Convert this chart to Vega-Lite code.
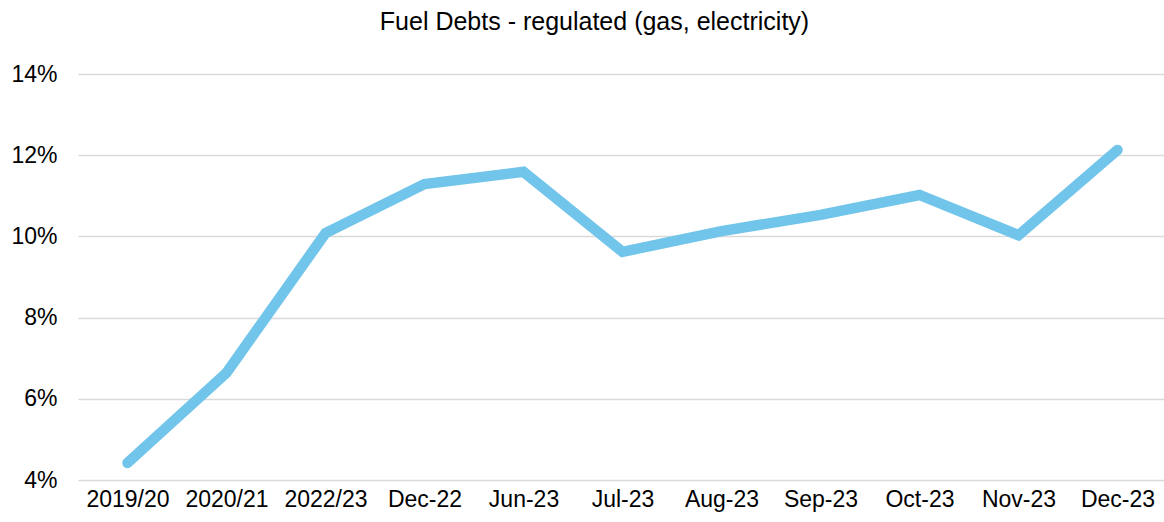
{
  "$schema": "https://vega.github.io/schema/vega-lite/v6.json",
  "autosize": {"type": "none"},
  "padding": {"left": 78, "top": 74, "right": 0, "bottom": 42},
  "width": 1089,
  "height": 406,
  "background": "white",
  "title": {
    "text": "Fuel Debts - regulated (gas, electricity)",
    "font": "Liberation Sans",
    "fontSize": 25,
    "fontWeight": "normal",
    "color": "#000000",
    "anchor": "middle",
    "frame": "group",
    "offset": 28,
    "dx": -28
  },
  "data": {
    "values": [
      {"period": "2019/20", "value": 0.0442},
      {"period": "2020/21", "value": 0.0664},
      {"period": "2022/23", "value": 0.1008},
      {"period": "Dec-22", "value": 0.1129},
      {"period": "Jun-23", "value": 0.1159},
      {"period": "Jul-23", "value": 0.0962},
      {"period": "Aug-23", "value": 0.1013},
      {"period": "Sep-23", "value": 0.1053},
      {"period": "Oct-23", "value": 0.1102},
      {"period": "Nov-23", "value": 0.1003},
      {"period": "Dec-23", "value": 0.1213}
    ]
  },
  "mark": {"type": "line", "color": "#71C4EA", "strokeWidth": 10.5, "strokeCap": "round", "strokeJoin": "miter"},
  "encoding": {
    "x": {
      "field": "period",
      "type": "ordinal",
      "sort": null,
      "scale": {"type": "point", "padding": 0.5},
      "axis": {
        "title": null,
        "labelAngle": 0,
        "domain": false,
        "ticks": false,
        "grid": false,
        "labelFont": "Liberation Sans",
        "labelFontSize": 23,
        "labelColor": "#000000",
        "labelPadding": 8
      }
    },
    "y": {
      "field": "value",
      "type": "quantitative",
      "scale": {"domain": [0.04, 0.14], "nice": false, "zero": false},
      "axis": {
        "title": null,
        "format": ".0%",
        "values": [0.04, 0.06, 0.08, 0.10, 0.12, 0.14],
        "domain": false,
        "ticks": false,
        "grid": true,
        "gridColor": "#d9d9d9",
        "gridWidth": 1.5,
        "labelFont": "Liberation Sans",
        "labelFontSize": 23,
        "labelColor": "#000000",
        "labelPadding": 21
      }
    }
  },
  "config": {"view": {"stroke": null}}
}
